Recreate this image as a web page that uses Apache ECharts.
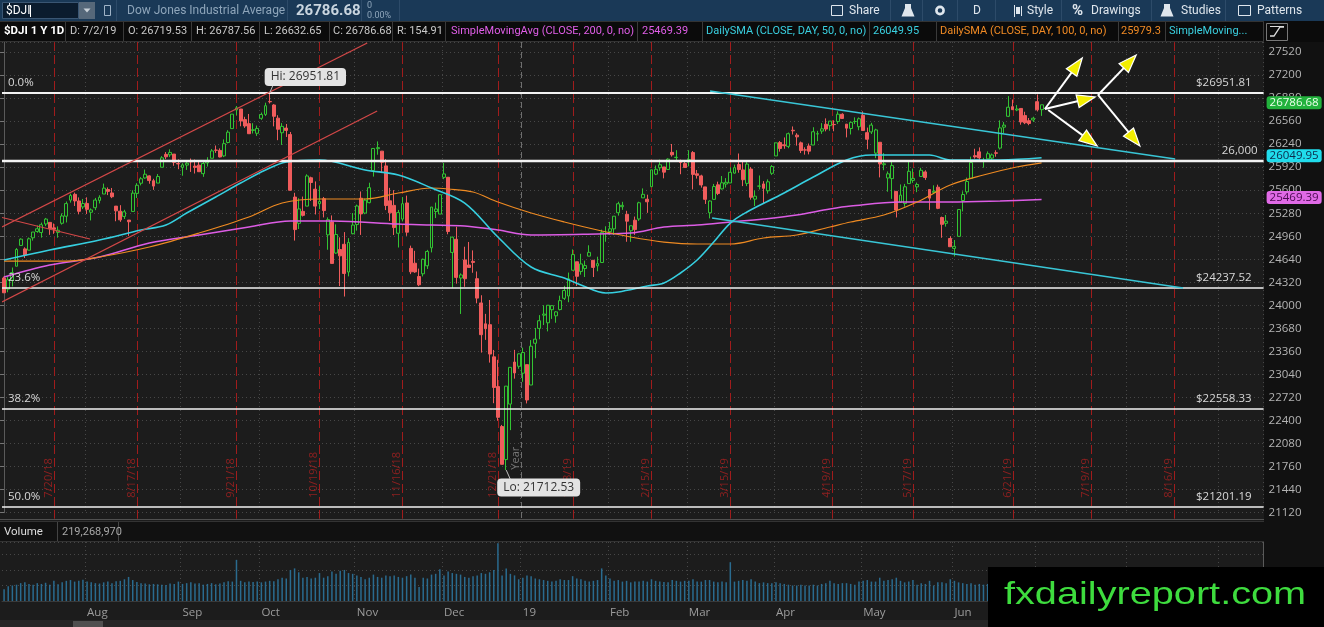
<!DOCTYPE html>
<html><head><meta charset="utf-8">
<script src="https://cdn.jsdelivr.net/npm/echarts/dist/echarts.min.js"></script>
<style>html,body{margin:0;padding:0;background:#1c1c1c;overflow:hidden}#c{width:1324px;height:627px}</style>
</head><body><div id="c"></div>
<script>
// ---------- categories ----------
const holidays = ['2018-07-04','2018-09-03','2018-11-22','2018-12-05','2018-12-25','2019-01-01','2019-01-21','2019-02-18','2019-04-19','2019-05-27','2019-07-04','2019-09-02'];
const firstDay = '2018-07-03';
const slotCount = 304;
const monthNames = ['Jan','Feb','Mar','Apr','May','Jun','Jul','Aug','Sep','Oct','Nov','Dec'];

// ---------- daily OHLC (7/3/18 .. 7/2/19) ----------
const opens = [
24380,24226,24350,24544,24833,24785,24767,24939,25027,25012,25131,25153,25077,25014,25141,25239,25462,25543,25451,25368,
25416,25294,25357,25458,25547,25610,25562,25379,25309,25236,25185,25305,25556,25697,25770,25799,25732,25699,25919,26098,26091,26102,25971,
25916,25949,25997,25935,25948,25830,25979,26044,26157,26153,26077,26263,26456,26715,26728,26581,26525,26431,26391,
26599,26653,26833,26784,26601,26398,26463,26374,25505,25140,25306,25379,25773,25614,25413,25482,24980,25159,24727,24776,24849,24464,24996,
25123,25489,25283,25427,25873,26177,26143,25938,25453,25389,25002,25199,25423,24792,24586,24401,24439,24550,24800,25304,25269,
25779,25780,24736,24918,24380,24631,24561,24612,24371,24034,23744,23732,23285,22872,22317,21858,22629,23213,23154,
23058,23177,22894,23474,23680,23864,23758,23940,23855,23942,24098,24130,24488,24606,24472,24512,24684,24626,24549,24596,24999,
25025,25063,25287,25371,25266,25037,25183,25200,25494,25475,25649,25823,25912,25923,25888,26126,26053,26001,25970,
26019,26123,25828,25799,25646,25287,25473,25675,25618,25686,25701,25837,25957,25882,25695,25894,25476,25656,25687,25592,25835,
26076,26262,26231,26209,26433,26365,26258,26161,26214,26228,26381,26421,26516,26497,26513,26554,26655,26518,26457,26554,26482,
26640,26400,26410,26115,26266,25954,25770,25761,25584,25430,25415,25692,25737,25646,25791,25854,25610,25570,25642,25221,25140,24929,
24791,24959,25457,25577,25765,26080,26133,26001,26036,26046,26120,26185,26476,26627,26761,26714,26736,26637,26566,26576,
26830,26719.53];
const highs = [
24400,24402,24526,24796,24932,24807,24943,25019,25110,25150,25215,25155,25137,25097,25278,25443,25552,25567,25500,25479,
25501,25347,25493,25530,25692,25639,25631,25379,25392,25328,25185,25599,25698,25782,25887,25807,25759,25825,26074,26130,26168,26102,26028,
25976,26002,26040,26026,25996,26013,26058,26172,26221,26181,26306,26433,26657,26770,26728,26620,26659,26531,26498,
26679,26816,26951.81,26795,26642,26532,26520,26409,25564,25489,25512,25821,25788,25722,25657,25506,25223,25250,25125,24945,25018,24934,25283,
25400,25583,25484,25704,26180,26278,26143,26032,25633,25601,25326,25505,25525,24830,24758,24511,24650,24771,25366,25428,25538,
25980,25781,24955,25092,24445,24815,24881,24764,24471,24141,23882,24075,23381,23244,22339,22878,23139,23382,23333,
23413,23177,23518,23687,23865,24002,24001,24000,23920,24135,24271,24456,24778,24606,24717,24622,24835,24626,24676,25052,25099,
25160,25239,25440,25439,25314,25108,25234,25440,25625,25538,25884,25943,26025,25923,26043,26242,26156,26025,26017,
26156,26144,25881,25815,25646,25459,25687,25719,25797,25768,25917,25955,26110,26003,25990,25921,25596,25805,25726,25751,25949,
26259,26283,26333,26401,26486,26392,26276,26196,26249,26475,26425,26532,26598,26561,26571,26696,26669,26518,26553,26612,26611,
26696,26470,26536,26454,26266,26116,25861,25996,25584,25680,25687,26006,25900,25706,25911,25877,25610,25668,25677,25233,25256,24961,
24908,25333,25585,25775,26066,26176,26195,26050,26139,26110,26155,26571,26547,26907,26860,26783,26737,26690,26603,26621,
26930,26787.56];
const lows = [
24174,24182,24264,24544,24833,24658,24767,24900,25009,24941,25101,24980,24994,24940,25122,25152,25428,25381,25265,25338,
25269,25180,25323,25416,25547,25532,25490,25169,25161,25200,24965,25305,25492,25667,25760,25690,25605,25699,25919,26032,26060,25939,25892,
25801,25882,25854,25832,25855,25786,25929,26044,26119,26055,26060,26251,26456,26642,26488,26466,26385,26388,26354,
26578,26631,26805,26487,26295,26229,26340,25599,24900,25061,25235,25379,25450,25263,25338,25222,24773,24583,24716,24268,24123,24403,24988,
25039,24979,25267,25418,25789,26093,25838,25324,25173,24977,24804,25166,24966,24434,24452,24268,24402,24506,24736,25213,25269,
25753,24988,24243,24302,23881,24259,24527,24453,24029,23344,23521,23205,22641,22397,21792,21712.53,22267,22982,23119,
22938,22638,22894,23266,23529,23727,23639,23812,23759,23930,24075,24044,24488,24270,24427,24394,24682,24394,24474,24596,24884,
24980,24977,25247,25327,24884,24883,24980,25174,25494,25286,25649,25810,25870,25765,25888,26067,26001,25822,25909,
25932,25611,25761,25636,25409,25209,25473,25532,25610,25637,25701,25831,25843,25657,25657,25469,25380,25610,25422,25553,25812,
26076,26136,26176,26183,26374,26219,26116,26094,26098,26228,26281,26383,26418,26426,26419,26521,26592,26334,26374,26519,26433,
26425,26169,26381,26045,25778,25878,25579,25480,25222,25430,25370,25692,25702,25573,25791,25743,25327,25567,25337,24939,25094,24815,
24680,24959,25305,25541,25764,26038,25992,25913,26036,26009,26065,26165,26388,26616,26719,26698,26510,26518,26503,26548,
26694,26632.65];
const closes = [
24175,24357,24456,24777,24920,24700,24925,25019,25064,25120,25199,25065,25058,25044,25242,25414,25527,25451,25307,25415,
25334,25326,25463,25502,25629,25584,25509,25313,25188,25300,25162,25559,25669,25759,25822,25734,25657,25790,26050,26064,26125,25987,25965,
25952,25975,25996,25917,25857,25971,25999,26146,26155,26062,26247,26406,26657,26744,26562,26492,26385,26440,26458,
26651,26774,26828,26627,26447,26487,26431,25599,25053,25340,25251,25798,25707,25379,25444,25317,25191,24583,24985,24688,24443,24875,25116,
25381,25271,25462,25635,26180,26191,25989,25387,25286,25081,25289,25413,25017,24466,24465,24286,24640,24749,25366,25339,25538,
25826,25027,24948,24389,24423,24370,24527,24597,24101,23593,23676,23324,22860,22445,21792,22878,23139,23062,23327,
23346,22686,23433,23531,23787,23879,24002,23996,23910,24066,24207,24370,24706,24404,24576,24553,24737,24528,24580,25015,25000,
25064,25239,25412,25390,25170,25106,25053,25426,25543,25439,25883,25891,25954,25851,26032,26092,26058,25985,25916,
26026,25820,25807,25673,25473,25450,25651,25555,25703,25710,25849,25914,25887,25746,25963,25502,25517,25658,25626,25717,25929,
26258,26179,26218,26385,26425,26341,26151,26157,26143,26412,26385,26453,26450,26560,26511,26656,26597,26462,26543,26555,26593,
26430,26308,26505,26438,25965,25967,25828,25942,25325,25532,25648,25863,25764,25680,25877,25777,25490,25586,25348,25126,25170,24815,
24820,25332,25540,25721,25984,26063,26049,26005,26107,26090,26113,26466,26504,26753,26719,26728,26548,26537,26527,26600,
26717,26786.68];
// volume, millions of shares
const volumes = [
150,190,200,210,230,240,220,210,230,220,235,210,260,215,240,260,270,250,260,275,
250,240,230,225,240,250,230,255,260,280,310,270,245,230,225,215,220,215,210,205,225,220,250,
220,230,240,225,230,210,220,230,215,225,240,255,250,530,260,240,250,245,250,
240,250,260,255,280,300,290,400,420,370,300,310,290,300,360,300,320,380,350,390,400,360,350,
330,310,280,300,340,310,300,330,320,330,310,300,320,340,300,180,300,290,340,350,410,
330,380,360,350,340,310,300,320,330,360,350,370,400,745,330,420,350,330,280,
300,330,320,290,280,270,260,250,260,280,270,270,320,290,280,260,250,260,270,420,330,
290,260,270,250,260,240,250,250,260,250,280,260,250,245,240,270,260,250,260,
260,280,250,250,270,270,250,240,250,240,500,250,260,270,260,280,250,230,240,230,230,
240,230,220,210,200,200,210,200,200,210,200,220,230,260,230,220,230,230,220,210,250,
260,270,250,250,300,260,270,280,300,260,240,250,270,210,230,220,260,200,240,240,230,280,
260,240,230,220,230,210,220,210,220,210,200,230,220,250,410,200,230,220,240,300,
240,219.27];

// ---------- moving averages: [day index, value] ----------
const sma50 = [[0,24630],[11,24769],[23,24908],[33,25047],[39,25117],[44,25283],[51,25506],[57,25700],[63,25881],[68,25992],[76,26020],[87,25881],[95,25811],[103,25631],[111,25422],[119,24950],[127,24533],[135,24380],[139,24283],[145,24172],[148,24186],[155,24269],[159,24311],[163,24450],[167,24630],[171,24880],[175,25144],[179,25297],[187,25533],[195,25783],[203,26020],[209,26089],[223,26089],[228,26020],[240,26020],[250,26049.95]];
const sma100 = [[0,24616],[15,24616],[23,24672],[35,24811],[47,25005],[59,25228],[67,25422],[76,25478],[87,25478],[95,25561],[103,25631],[107,25617],[113,25575],[119,25436],[127,25283],[135,25158],[143,25047],[151,24950],[159,24880],[167,24853],[175,24853],[183,24936],[191,24978],[199,25089],[204,25158],[212,25255],[220,25436],[228,25672],[236,25811],[244,25922],[250,25979.3]];
const sma200 = [[0,24394],[11,24561],[23,24672],[35,24866],[47,24978],[59,25089],[69,25172],[79,25172],[95,25130],[103,25117],[111,25103],[119,25047],[127,24978],[143,24992],[151,25005],[159,25089],[167,25117],[175,25158],[183,25200],[191,25255],[199,25339],[204,25380],[216,25436],[228,25436],[240,25450],[250,25469.39]];

// ---------- drawings ----------
const fibPrices = [26951.81, 26000, 24237.52, 22558.33, 21201.19];
const fibLeft = ['0.0%', '', '23.6%', '38.2%', '50.0%'];
const fibRight = ['$26951.81', '26,000', '$24237.52', '$22558.33', '$21201.19'];
const fibWidth = [2, 2.5, 1.5, 1.5, 1.5];
const trendLines = [[-0.5,25089,87.5,27645],[-0.5,24047,89.9,26700],[-0.5,25221,20.7,24922],[170.1,26978,282.2,26033],[170.6,25214,284.1,24241]];
const trendColors = ['#d44848','#d44848','#d44848','#39c6d6','#39c6d6'];
const trendWidths = [1.2,1.2,1.2,1.6,1.6];
const arrows = [[250.8,26728,259.8,27437],[250.8,26728,262.9,26895],[251.6,26714,263.4,26214],[263.6,26923,272.8,27478],[263.6,26923,273.7,26214]];
const expiryDates = ['2018-07-20','2018-08-17','2018-09-21','2018-10-19','2018-11-16','2018-12-21','2019-01-18','2019-02-15','2019-03-15','2019-04-19','2019-05-17','2019-06-21','2019-07-19','2019-08-16'];
const callouts = [['2018-10-03', 26951.81, 'Hi: 26951.81'], ['2018-12-26', 21712.53, 'Lo: 21712.53']];
const tagPrices = [26786.68, 26049.95, 25469.39];
const tagBg = ['#22b23c', '#20dcec', '#e06ae6'];
const tagFg = ['#eaffea', '#0c2a4a', '#4a0a50'];

// ---------- build ----------
function buildDates(){
  const p = firstDay.split('-').map(Number);
  const d = new Date(Date.UTC(p[0], p[1]-1, p[2]));
  const out = [];
  while (out.length < slotCount) {
    const wd = d.getUTCDay(); const s = d.toISOString().slice(0,10);
    if (wd !== 0 && wd !== 6 && holidays.indexOf(s) < 0) out.push(s);
    d.setUTCDate(d.getUTCDate()+1);
  }
  return out;
}
const dates = buildDates();
function dayPos(iso){ for (let i=0;i<dates.length;i++){ if (dates[i]===iso) return i; if (dates[i]>iso) return i-0.5; } return dates.length; }
function monthTick(i){ return i>0 && dates[i].slice(5,7)!==dates[i-1].slice(5,7); }
function monthLabel(v){ const m=+v.slice(5,7); return m===1 ? v.slice(2,4) : monthNames[m-1]; }
function shortDate(iso){ const p=iso.split('-'); return (+p[1])+'/'+(+p[2])+'/'+p[0].slice(2); }
const yearPos = dates.findIndex(d=>d.slice(0,4)==='2019') - 0.5;

const candleData = closes.map((c,i)=>[opens[i], c, lows[i], highs[i]]);
const FONT = '"Open Sans"';
const GRID = '#474747';

function txtStyle(o){ o.align=o.textAlign||'left'; o.verticalAlign=o.textVerticalAlign||'middle'; o.textAlign=o.align; o.textVerticalAlign=o.verticalAlign; return o; }

function renderFib(params, api){
  const i=params.dataIndex, cs=params.coordSys;
  const y=Math.round(api.coord([0, api.value(1)])[1]);
  const ch=[{type:'line', shape:{x1:cs.x,y1:y,x2:cs.x+cs.width,y2:y}, style:{stroke:'#f2f2f2', lineWidth:fibWidth[i]}}];
  if (fibLeft[i]) ch.push({type:'text', x:cs.x+6, y:y-10, style:txtStyle({text:fibLeft[i], fill:'#d8d8d8', font:'11.5px '+FONT})});
  ch.push({type:'text', x:cs.x+cs.width-(i===1?6:12), y:y-10, style:txtStyle({text:fibRight[i], fill:'#d8d8d8', font:'11.5px '+FONT, textAlign:'right'})});
  return {type:'group', children:ch};
}
function renderTrend(params, api){
  const i=params.dataIndex;
  const a=api.coord([api.value(0),api.value(1)]), b=api.coord([api.value(2),api.value(3)]);
  return {type:'line', shape:{x1:a[0],y1:a[1],x2:b[0],y2:b[1]}, style:{stroke:trendColors[i], lineWidth:trendWidths[i]}};
}
function renderVLine(params, api){
  const cs=params.coordSys, i=params.dataIndex;
  const x=Math.round(api.coord([api.value(0), 24000])[0])+0.5;
  return {type:'group', children:[
    {type:'line', shape:{x1:x,y1:cs.y,x2:x,y2:cs.y+cs.height+6}, style:{stroke:'#a01c1c', lineWidth:1, lineDash:[9,4]}},
    {type:'text', x:x-6, y:cs.y+cs.height-15, rotation:Math.PI/2, style:txtStyle({text:shortDate(expiryDates[i]), fill:'#8e2020', font:'11px '+FONT})}
  ]};
}
function renderYear(params, api){
  const cs=params.coordSys;
  const x=Math.round(api.coord([api.value(0), 24000])[0])+0.5;
  return {type:'group', children:[
    {type:'line', shape:{x1:x,y1:cs.y,x2:x,y2:cs.y+cs.height+6}, style:{stroke:'#6e6e6e', lineWidth:1, lineDash:[6,4]}},
    {type:'text', x:x-6, y:cs.y+cs.height-43, rotation:Math.PI/2, style:txtStyle({text:'Year', fill:'#777', font:'11px '+FONT})}
  ]};
}
function renderArrow(params, api){
  const a=api.coord([api.value(0),api.value(1)]), b=api.coord([api.value(2),api.value(3)]);
  const dx=b[0]-a[0], dy=b[1]-a[1], len=Math.hypot(dx,dy), ux=dx/len, uy=dy/len, nx=-uy, ny=ux;
  const L=18, W=6.5, bx=b[0]-ux*L, by=b[1]-uy*L;
  return {type:'group', children:[
    {type:'line', shape:{x1:a[0],y1:a[1],x2:bx+ux*3,y2:by+uy*3}, style:{stroke:'#ffffff', lineWidth:2}},
    {type:'polygon', shape:{points:[[b[0],b[1]],[bx+nx*W,by+ny*W],[bx-nx*W,by-ny*W]]}, style:{fill:'#f3ee00', stroke:'#ffffff', lineWidth:1.2}}
  ]};
}
function renderCallout(params, api){
  const i=params.dataIndex, up=(i===0);
  const p=api.coord([api.value(0),api.value(1)]);
  return {type:'group', children:[
    {type:'line', shape:{x1:p[0],y1:p[1],x2:p[0]+(up?3:4),y2:p[1]+(up?-7:9)}, style:{stroke:'#bdbdbd', lineWidth:1}},
    {type:'text', x:p[0]+(up?-5:-9), y:p[1]+(up?-16:17.5), style:txtStyle({text:callouts[i][2], fill:'#333', font:'12px '+FONT, backgroundColor:'#e3e3e3', padding:[3,6], borderRadius:4})}
  ]};
}
function renderTag(params, api){
  const i=params.dataIndex, cs=params.coordSys;
  const y=api.coord([0, api.value(1)])[1];
  return {type:'text', x:cs.x+cs.width+3, y:y-2, style:txtStyle({text:tagPrices[i].toFixed(2), fill:tagFg[i], backgroundColor:tagBg[i], padding:[1,3,0,3], borderRadius:3, font:'11.5px '+FONT})};
}

// ---------- chrome (toolbar, headers, watermark) ----------
const G=[];
function T(x,y,text,fill,font,align,extra){ G.push(Object.assign({type:'text', x:x, y:y, z:10, silent:true, style:txtStyle({text:text, fill:fill, font:font, textAlign:align||'left'})}, extra||{})); }
function R(x,y,w,h,fill,stroke,z){ G.push({type:'rect', z:(z===undefined?-1:z), silent:true, shape:{x:x,y:y,width:w,height:h}, style:{fill:fill||'none', stroke:stroke||'none', lineWidth:stroke?1:0}}); }
function L(x1,y1,x2,y2,stroke,z){ G.push({type:'line', z:(z===undefined?1:z), silent:true, shape:{x1:x1,y1:y1,x2:x2,y2:y2}, style:{stroke:stroke, lineWidth:1}}); }
const UI='Roboto', TB='#dfe6ed';
R(0,0,1324,21,'#1a3957');
R(2.5,2.5,76,16,'#0b1c2e','#3a5673');
T(6,11,'$DJI','#ffffff','12px '+UI);
L(30.5,5,30.5,17,'#ffffff');
R(79,2,16,17,'#56687a');
G.push({type:'polygon', z:2, silent:true, shape:{points:[[83.5,8.5],[90.5,8.5],[87,12.5]]}, style:{fill:'#c8d0d8'}});
R(104.5,5.5,6,10,null,'#9fb3c6',1);
[116.5,287.5,361.5,399.5,890.5,922.5,957.5,995.5,1061.5,1151.5,1225.5].forEach(x=>L(x,0,x,21,'#2d4b69'));
T(127,11,'Dow Jones Industrial Average','#8ea5ba','12px '+UI);
T(296,11,'26786.68','#c9d5df','bold 15px '+UI);
T(367,6,'0','#8ea5ba','9px '+UI);
T(367,15.5,'0.00%','#8ea5ba','9px '+UI);
R(831.5,5.5,11,10,null,TB,1);
T(849,11,'Share',TB,'12px '+UI);
G.push({type:'polygon', z:2, silent:true, shape:{points:[[905,4],[911,4],[911,8],[914.5,16.5],[901.5,16.5],[905,8]]}, style:{fill:TB}});
G.push({type:'circle', z:2, silent:true, shape:{cx:940,cy:10.5,r:3.6}, style:{fill:'none', stroke:TB, lineWidth:2.6}});
T(973,11,'D',TB,'12px '+UI);
L(1014.5,5,1014.5,17,TB,2); R(1016,7,4,7,TB,null,2); L(1021.5,6,1021.5,16,TB,2);
T(1027,11,'Style',TB,'12px '+UI);
T(1072,11,'%',TB,'bold 15px '+UI);
T(1091,11,'Drawings',TB,'12px '+UI);
G.push({type:'polygon', z:2, silent:true, shape:{points:[[1164,4],[1170,4],[1170,8],[1173.5,16.5],[1160.5,16.5],[1164,8]]}, style:{fill:TB}});
T(1181,11,'Studies',TB,'12px '+UI);
R(1238.5,5.5,12,10,null,TB,1);
T(1257,11,'Patterns',TB,'12px '+UI);
// legend row
R(0,21,1324,21,'#0b0b0b');
L(0,21.5,1264,21.5,'#333'); L(0,41.5,1264,41.5,'#333');
[65.5,123.5,191.5,259.5,329.5,392.5,445.5,637.5,702.5,869.5,936.5,1118.5,1165.5,1263.5].forEach(x=>L(x,22,x,41,'#3a3a3a'));
const LG='11px '+UI, LC='#c8c8c8';
T(4,31.5,'$DJI 1 Y 1D','#ffffff','bold 11.5px '+UI);
T(70,31.5,'D: 7/2/19',LC,LG);
T(128,31.5,'O: 26719.53',LC,LG);
T(196,31.5,'H: 26787.56',LC,LG);
T(264,31.5,'L: 26632.65',LC,LG);
T(333,31.5,'C: 26786.68',LC,LG);
T(397,31.5,'R: 154.91',LC,LG);
T(451,31.5,'SimpleMovingAvg (CLOSE, 200, 0, no)','#e05ee8',LG);
T(642,31.5,'25469.39','#e05ee8',LG);
T(706,31.5,'DailySMA (CLOSE, DAY, 50, 0, no)','#3ad0e0',LG);
T(873,31.5,'26049.95','#3ad0e0',LG);
T(940,31.5,'DailySMA (CLOSE, DAY, 100, 0, no)','#f08a24',LG);
T(1121,31.5,'25979.3','#f08a24',LG);
T(1169,31.5,'SimpleMoving...','#3ad0e0',LG);
R(1266.5,23.5,21,17,null,'#777',1);
G.push({type:'polyline', z:2, silent:true, shape:{points:[[1270,36],[1274,36],[1280,27],[1284,27]]}, style:{stroke:'#ddd', lineWidth:1.3, fill:'none'}});
L(1270,26.5,1284,26.5,'#ddd',2);
// right axis strip
R(1264,42,60,585,'#111111');
// pane separator + volume header
L(0,519.5,1264,519.5,'#505050'); 
R(0,521,1264,21,'#111111');
L(0,521.5,1264,521.5,'#333'); L(0,541.5,1264,541.5,'#333');
T(4,532,'Volume','#dddddd','11.5px '+UI);
L(57.5,522,57.5,541,'#444');
T(62,532,'219,268,970','#a8a8a8','11px '+UI);
L(118.5,522,118.5,541,'#444');
// bottom scrollbar
R(0,620,1324,7,'#262626');
R(73,621,30,6,'#505050');
// watermark
R(988,567,336,60,'#000000',null,50);
G.push({type:'text', z:51, silent:true, x:1004, y:595, scaleX:1.24, style:txtStyle({text:'fxdailyreport.com', fill:'#3edc3e', font:'32px "Liberation Sans"'})});

const chart = echarts.init(document.getElementById('c'), null, {renderer:'canvas'});
chart.setOption({
  backgroundColor:'#1c1c1c',
  animation:false,
  grid:[{left:2, top:42, width:1261.6, height:470.7}, {left:2, top:542, width:1261.6, height:59}],
  xAxis:[
    {type:'category', gridIndex:0, data:dates, boundaryGap:true, axisLine:{show:false}, axisTick:{show:false}, axisLabel:{show:false},
     splitLine:{show:true, interval:monthTick, lineStyle:{color:GRID, type:[1,3]}}},
    {type:'value', gridIndex:0, min:-0.5, max:dates.length-0.5, show:false},
    {type:'category', gridIndex:1, data:dates, boundaryGap:true, axisLine:{show:true, lineStyle:{color:'#3a3a3a'}}, axisTick:{show:false},
     axisLabel:{show:true, interval:monthTick, formatter:monthLabel, align:'left', color:'#9c9c9c', fontSize:11.5, fontFamily:'Open Sans', margin:6},
     splitLine:{show:true, interval:monthTick, lineStyle:{color:GRID, type:[1,3]}}}
  ],
  yAxis:[
    {type:'value', gridIndex:0, position:'right', min:21120, max:27659, interval:320,
     axisLine:{show:true, lineStyle:{color:'#5a5a5a'}}, axisTick:{show:true, inside:true, length:4, lineStyle:{color:'#777'}},
     axisLabel:{color:'#b4b4b4', fontSize:11.5, fontFamily:'Open Sans', margin:5, showMaxLabel:false, formatter:v=>(v%320===0?String(v):'')},
     splitLine:{show:true, lineStyle:{color:GRID, type:[1,3]}}},
    {type:'value', gridIndex:1, position:'right', min:0, max:760, interval:200,
     axisLine:{show:true, lineStyle:{color:'#5a5a5a'}}, axisTick:{show:false}, axisLabel:{show:false},
     splitLine:{show:true, lineStyle:{color:GRID, type:[1,3]}}}
  ],
  series:[
    {type:'custom', name:'expiry', xAxisIndex:1, yAxisIndex:0, z:1, silent:true, renderItem:renderVLine, data:expiryDates.map(d=>[dayPos(d),24000])},
    {type:'custom', name:'year', xAxisIndex:1, yAxisIndex:0, z:1, silent:true, renderItem:renderYear, data:[[yearPos,24000]]},
    {type:'candlestick', xAxisIndex:0, yAxisIndex:0, z:2, barWidth:3.4, data:candleData,
     itemStyle:{color:'#1c1c1c', color0:'#f05c5c', borderColor:'#33c433', borderColor0:'#f05c5c', borderWidth:1}},
    {type:'line', xAxisIndex:1, yAxisIndex:0, z:3, data:sma200, smooth:0.35, symbol:'none', lineStyle:{color:'#dc5ce4', width:1.5}},
    {type:'line', xAxisIndex:1, yAxisIndex:0, z:3, data:sma100, smooth:0.35, symbol:'none', lineStyle:{color:'#ee8a22', width:1.2}},
    {type:'line', xAxisIndex:1, yAxisIndex:0, z:3, data:sma50, smooth:0.35, symbol:'none', lineStyle:{color:'#36cfe0', width:1.6}},
    {type:'custom', name:'fib', xAxisIndex:1, yAxisIndex:0, z:4, silent:true, renderItem:renderFib, data:fibPrices.map(p=>[0,p])},
    {type:'custom', name:'trend', xAxisIndex:1, yAxisIndex:0, z:5, silent:true, clip:true, renderItem:renderTrend, encode:{x:[0,2], y:[1,3]}, data:trendLines},
    {type:'custom', name:'arrows', xAxisIndex:1, yAxisIndex:0, z:6, silent:true, renderItem:renderArrow, encode:{x:[0,2], y:[1,3]}, data:arrows},
    {type:'custom', name:'callouts', xAxisIndex:1, yAxisIndex:0, z:7, silent:true, renderItem:renderCallout, data:callouts.map(c=>[dayPos(c[0]), c[1]])},
    {type:'custom', name:'tags', xAxisIndex:1, yAxisIndex:0, z:8, silent:true, renderItem:renderTag, data:tagPrices.map(p=>[0,p])},
    {type:'bar', xAxisIndex:2, yAxisIndex:1, barWidth:1.5, data:volumes, itemStyle:{color:'#2a6b8f'}}
  ],
  graphic:{elements:G}
});
</script></body></html>
